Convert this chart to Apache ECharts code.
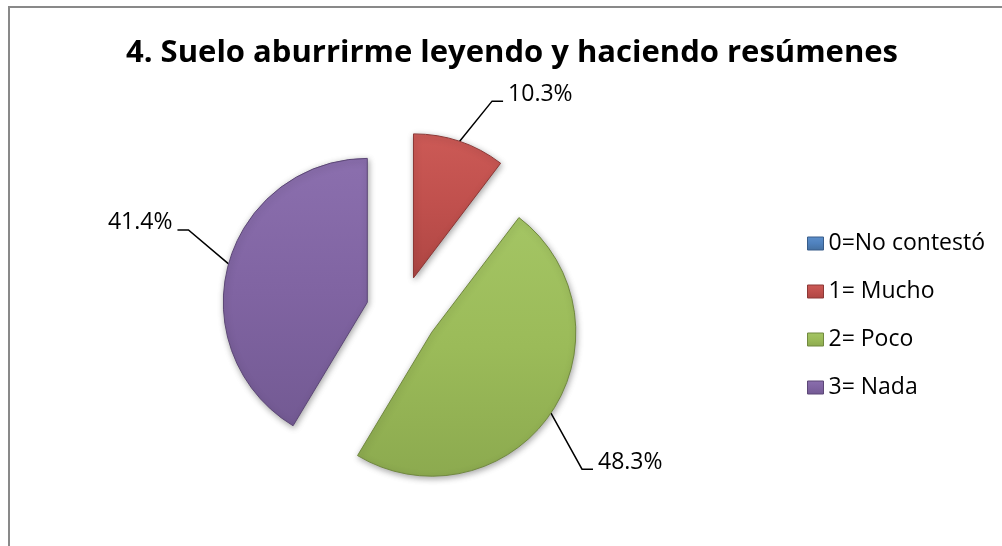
<!DOCTYPE html>
<html>
<head>
<meta charset="utf-8">
<script src="https://cdn.jsdelivr.net/npm/echarts@6/dist/echarts.min.js"></script>
<style>
  html, body { margin: 0; padding: 0; background: #fff; }
  #chart { width: 1002px; height: 546px; }
</style>
</head>
<body>
<div id="chart"></div>
<script>
var titleText = '4. Suelo aburrirme leyendo y haciendo resúmenes';
var categories = ['0=No contestó', '1= Mucho', '2= Poco', '3= Nada'];
var values = [0, 3, 14, 12];
var colors = ['#4F81BD', '#C0504D', '#9BBB59', '#8064A2'];
var lightColors = ['#5C8FCB', '#CC5A56', '#A4C564', '#8B6FAE'];
var darkColors = ['#44709F', '#AE4643', '#8CAA4F', '#735A93'];
var edgeColors = ['#385D8A', '#8C3836', '#71893F', '#5C4776'];
// label nudges (pixels) per slice index, styling only
var labelShift = { 1: [16, 2], 2: [-12, 20], 3: [10, -27] };

var chart = echarts.init(document.getElementById('chart'));
var total = values.reduce(function (a, b) { return a + b; }, 0);

function grad(i) {
  return new echarts.graphic.LinearGradient(0, 0, 0, 1, [
    { offset: 0, color: lightColors[i] },
    { offset: 0.5, color: colors[i] },
    { offset: 1, color: darkColors[i] }
  ]);
}

var data = categories.map(function (c, i) {
  var item = {
    name: c,
    value: values[i],
    selected: true,
    itemStyle: {
      color: grad(i),
      borderColor: edgeColors[i],
      borderWidth: 1
    }
  };
  if (values[i] === 0) {
    item.label = { show: false };
    item.labelLine = { show: false };
    item.itemStyle.borderWidth = 0;
  }
  return item;
});

chart.setOption({
  animation: false,
  backgroundColor: '#ffffff',
  graphic: [{
    type: 'rect',
    shape: { x: 9, y: 7, width: 1200, height: 700 },
    style: { fill: 'none', stroke: '#898989', lineWidth: 2 },
    silent: true
  }],
  title: {
    text: titleText,
    left: 121,
    top: 33,
    textStyle: {
      fontFamily: 'Open Sans',
      fontWeight: 'bold',
      fontSize: 31,
      color: '#000'
    }
  },
  legend: {
    orient: 'vertical',
    left: 802,
    top: 227,
    itemWidth: 16,
    itemHeight: 13,
    itemGap: 25,
    icon: 'rect',
    data: categories.map(function (c, i) {
      return { name: c, itemStyle: { color: grad(i), borderColor: edgeColors[i], borderWidth: 1 } };
    }),
    textStyle: {
      fontFamily: 'Open Sans',
      fontSize: 23,
      lineHeight: 23,
      color: '#000'
    }
  },
  series: [{
    type: 'pie',
    center: [402, 312],
    radius: [0, 144],
    startAngle: 90,
    clockwise: true,
    selectedMode: 'multiple',
    selectedOffset: 36,
    avoidLabelOverlap: false,
    data: data,
    select: { itemStyle: {} },
    emphasis: { disabled: true },
    itemStyle: {
      shadowBlur: 6,
      shadowColor: 'rgba(0,0,0,0.35)',
      shadowOffsetX: 1,
      shadowOffsetY: 2
    },
    label: {
      show: true,
      position: 'outside',
      formatter: function (p) {
        return (p.value / total * 100).toFixed(1) + '%';
      },
      fontFamily: 'Open Sans',
      fontSize: 23,
      color: '#000',
      distanceToLabelLine: 4
    },
    labelLine: {
      show: true,
      length: 52,
      length2: 12,
      lineStyle: { color: '#000', width: 1.5 }
    },
    labelLayout: function (params) {
      var s = labelShift[params.dataIndex];
      if (!s) return {};
      var r = params.labelRect;
      var pts = params.labelLinePoints;
      var rx = r.x + s[0], ry = r.y + s[1];
      var yLine = ry + r.height / 2 + 7;
      var out = {};
      out.dx = s[0];
      out.dy = s[1];
      if (pts && pts.length) {
        var start = pts[0];
        var toRight = (rx + r.width / 2) > start[0];
        var endX = toRight ? rx - 5 : rx + r.width + 5;
        var cornerX = toRight ? endX - 11 : endX + 11;
        out.labelLinePoints = [
          [start[0], start[1]],
          [cornerX, yLine],
          [endX, yLine]
        ];
      }
      return out;
    }
  }]
});
</script>
</body>
</html>
